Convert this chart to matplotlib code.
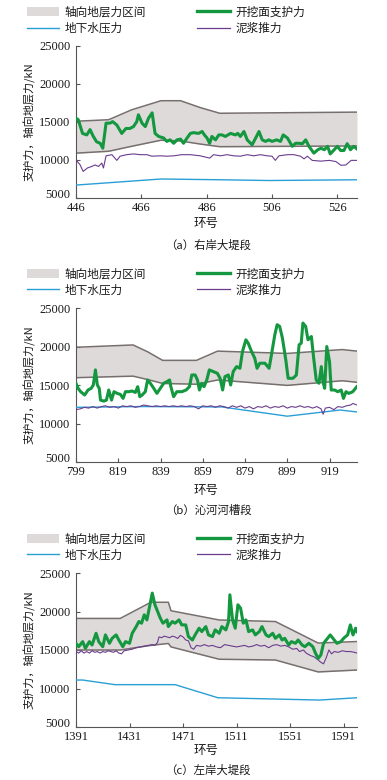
import matplotlib
matplotlib.use('Agg')
import matplotlib.pyplot as plt
import matplotlib.transforms as mtransforms
from matplotlib.patches import Patch
from matplotlib.lines import Line2D

plt.rcParams['font.family'] = ['Noto Sans CJK SC', 'DejaVu Sans']

# ---------------- (a) right bank levee ----------------
a_bound_ring = [446, 456, 463, 472, 478, 484, 490, 532]
a_upper = [15100, 15300, 16600, 17800, 17800, 16900, 16150, 16300]
a_lower = [10900, 11150, 11800, 12600, 12500, 12100, 11750, 11850]
a_water_ring = [446, 459, 472, 490, 505, 532]
a_water = [6700, 7100, 7500, 7400, 7300, 7400]
a_face_ring = [446, 446.7, 448, 449.3, 450.3, 451.3, 452.3, 453.4, 454.2, 455.2,
               456.4, 457.2, 458.5, 460, 461.3, 462.5, 463.6, 464.6, 465.1, 466.2,
               467.2, 468.2, 469.3, 470.2, 471.3, 472.8, 473.8, 474.8, 475.9, 476.9,
               478, 478.9, 480, 481, 482, 483.5, 484.6, 485.3, 486.1, 486.9,
               487.6, 488.7, 489.7, 490.7, 491.7, 493.3, 494.8, 495.5, 496.3, 497.4,
               498.4, 499.9, 501, 502, 503, 504, 505, 506, 507.4, 508.6,
               509.4, 510.7, 512.2, 513.2, 514.2, 515.3, 516.3, 517.3, 518.8, 520,
               521, 522, 523, 523.8, 524.8, 526, 527, 528, 529, 530, 531, 532]
a_face = [15500, 15300, 13500, 13300, 14000, 13100, 12400, 12200, 11550, 14850,
          14850, 15050, 14600, 13500, 14150, 14150, 14400, 15050, 15950, 14850,
          14400, 15500, 16200, 13500, 13100, 12900, 12450, 12650, 12200, 12650,
          12750, 12200, 12900, 13500, 13600, 13500, 13750, 13300, 12900, 12200,
          13100, 12650, 13300, 13300, 13100, 13500, 13300, 13500, 13100, 13750,
          12650, 12000, 12900, 13750, 12650, 12450, 12650, 12450, 12650, 12450,
          13300, 12900, 11800, 12200, 12200, 12150, 12650, 11800, 10900, 11350,
          11550, 11350, 11800, 10800, 11250, 11800, 11250, 11250, 12150, 11350, 11800, 11450]
a_slurry_ring = [446, 447.2, 448.2, 449.5, 450.8, 451.8, 452.9, 453.9, 454.4, 455.2,
                 457, 458.5, 459.5, 461.5, 463.6, 465.6, 467.7, 469.2, 471.8, 473.8,
                 475.9, 478.4, 481, 484, 486.9, 488.1, 490.2, 492.2, 494.3, 496.3,
                 498.4, 500.4, 502.4, 504.5, 506, 507, 508.1, 510.7, 512.7, 514.7,
                 515.8, 516.8, 518.3, 520.9, 523.5, 525.5, 527.1, 528.6, 530.2, 532]
a_slurry = [10000, 9400, 8500, 8950, 9150, 9350, 9150, 9600, 8950, 10550,
            10700, 9950, 10500, 10700, 10800, 10700, 10700, 10500, 10550, 10500,
            10550, 10700, 10700, 10550, 10250, 10700, 10550, 10700, 10550, 10500,
            10700, 10550, 10700, 10550, 10500, 9950, 10550, 10700, 10700, 10500,
            10150, 10500, 9950, 9850, 9950, 9800, 9300, 9350, 9950, 9950]
a_ticks = [446, 466, 486, 506, 526]

# ---------------- (b) Qinhe river channel ----------------
b_bound_ring = [799, 826, 833, 840, 856, 866, 899, 925, 932]
b_upper = [19900, 20200, 19300, 18200, 18200, 19400, 19100, 19600, 19400]
b_lower = [15950, 16150, 15700, 15200, 15100, 15650, 14950, 15550, 15350]
b_water_ring = [799, 830, 868, 899, 924, 932]
b_water = [12100, 12200, 12150, 10950, 11750, 11500]
b_face_ring = [799, 800, 801.2, 803.1, 804.7, 806.2, 807.2, 808.2, 809.1, 810,
               810.6, 812.2, 813.4, 814.5, 815.8, 817, 818.5, 820, 821.3, 822.4,
               824, 825.5, 827.1, 828.2, 829.2, 830.3, 831.8, 832.9, 834.2, 835.8,
               837.3, 838.9, 840.5, 842, 843.3, 843.9, 845.2, 846.7, 849.1, 851.1,
               852.7, 853.8, 855.4, 856.5, 857.4, 858.5, 859.6, 860.9, 862.1, 864,
               865.9, 867.2, 868.4, 869.5, 871.1, 872.2, 873.4, 875, 876.6, 877.8,
               879.4, 880.5, 882.1, 883.6, 884.7, 886, 888.4, 890.4, 891.5, 893.1,
               894.2, 895.4, 896.7, 898.3, 899.4, 901.7, 903.3, 904.6, 905.6, 906.4,
               907.7, 908.8, 910.4, 911.5, 912.7, 914, 915.1, 915.9, 916.7, 917.7,
               919, 919.8, 921.4, 922.9, 924.5, 925.6, 926.8, 928.1, 930, 931.9]
b_face = [15200, 14570, 14130, 13700, 14350, 14570, 15000, 16960, 15000, 14570,
          13040, 12910, 13040, 14350, 13040, 14130, 13910, 13780, 13260, 14130,
          14130, 14220, 14040, 14780, 13480, 13700, 14130, 15650, 15220, 14570,
          13910, 14570, 15220, 15430, 15650, 14780, 13480, 14130, 14130, 14350,
          14780, 16300, 16300, 15650, 14350, 15220, 14780, 15650, 16960, 16740,
          16520, 15870, 14350, 16090, 16300, 15000, 16740, 17390, 17170, 19350,
          20870, 20430, 19350, 18480, 17170, 17830, 17830, 17170, 18910, 21520,
          22830, 22610, 21090, 18260, 15870, 15870, 16300, 20220, 20430, 23040,
          22610, 20870, 21300, 18480, 15650, 15220, 17390, 15430, 14570, 20000,
          18040, 14350, 14350, 14130, 14350, 13260, 14130, 13910, 14130, 14780]
b_slurry_ring = [799, 801, 803, 805, 807, 809, 811, 813, 815, 817,
                 819, 821, 823, 825, 827, 829, 831, 833, 835, 837,
                 839, 841, 843, 845, 847, 849, 851, 853, 855, 857,
                 859, 861, 863, 865, 867, 869, 871, 873, 875, 877,
                 879, 881, 883, 885, 887, 889, 891, 893, 895, 897,
                 899, 901, 903, 905, 907, 909, 911, 913, 915, 916,
                 917, 919, 921, 923, 925, 927, 929, 930, 932]
b_slurry = [11800, 11900, 12100, 12000, 12200, 12000, 12200, 12300, 12100, 12200,
            12000, 12300, 12200, 12300, 12100, 12200, 12400, 12300, 12200, 12300,
            12200, 12300, 12200, 12300, 12200, 12300, 12200, 12300, 12200, 11900,
            12300, 12200, 12300, 12100, 12300, 12200, 12000, 12300, 12100, 12300,
            12000, 12200, 11900, 12200, 12100, 12300, 12000, 12200, 12100, 12300,
            12000, 12200, 12100, 12300, 12100, 12200, 12000, 12200, 11900, 11200,
            12000, 12100, 11800, 12200, 12100, 12300, 12400, 12600, 12400]
b_ticks = [799, 819, 839, 859, 879, 899, 919]

# ---------------- (c) left bank levee ----------------
c_bound_ring = [1391, 1424, 1447, 1460, 1462, 1498, 1540, 1572, 1601]
c_upper = [19100, 19100, 21200, 21200, 20100, 18900, 18700, 15900, 16100]
c_lower = [15000, 15000, 15600, 15850, 15400, 13800, 13700, 12150, 12400]
c_water_ring = [1391, 1396, 1420, 1465, 1497, 1573, 1601]
c_water = [11100, 11100, 10500, 10500, 8800, 8500, 8800]
c_face_ring = [1391, 1393, 1396, 1398, 1401, 1403, 1406, 1408, 1411, 1413,
               1416, 1418, 1421, 1423, 1426, 1428, 1431, 1433, 1436, 1438,
               1440, 1442, 1444, 1446, 1448, 1450, 1452, 1454, 1456, 1459,
               1460, 1463, 1465, 1468, 1470, 1473, 1475, 1478, 1480, 1483,
               1485, 1488, 1490, 1493, 1495, 1498, 1500, 1503, 1505, 1506,
               1508, 1510, 1512, 1514, 1516, 1518, 1520, 1523, 1525, 1528,
               1530, 1533, 1535, 1538, 1540, 1543, 1545, 1547, 1550, 1552,
               1555, 1557, 1560, 1562, 1565, 1568, 1570, 1572, 1574, 1576,
               1579, 1581, 1584, 1586, 1589, 1591, 1594, 1596, 1598, 1600, 1601]
c_face = [15870, 15430, 16090, 15220, 16090, 15650, 17170, 16090, 15430, 16960,
          15870, 16520, 16960, 16300, 15430, 16090, 15870, 17170, 18040, 18700,
          18480, 19570, 18910, 20650, 22390, 20870, 20000, 19130, 18480, 18910,
          18040, 18700, 18480, 18910, 18260, 18260, 16740, 16300, 16960, 17830,
          17390, 18040, 16960, 16740, 17610, 17170, 18040, 17610, 18700, 22170,
          18910, 17830, 20870, 20430, 18480, 18910, 17390, 17610, 16960, 17390,
          18040, 16960, 16740, 17170, 16520, 16960, 16300, 16520, 15650, 16090,
          15870, 16300, 15650, 15430, 15870, 15430, 14570, 13910, 14350, 15870,
          16520, 16960, 16300, 15870, 16090, 16520, 16960, 18260, 16960, 17830, 17390]
c_slurry_ring = [1391, 1393, 1395, 1397, 1399, 1401, 1403, 1405, 1407, 1409,
                 1411, 1413, 1415, 1417, 1419, 1421, 1423, 1425, 1427, 1430,
                 1433, 1436, 1439, 1442, 1445, 1448, 1450, 1452, 1453, 1455,
                 1457, 1459, 1461, 1463, 1465, 1467, 1469, 1471, 1473, 1475,
                 1477, 1479, 1481, 1484, 1487, 1490, 1493, 1496, 1499, 1502,
                 1505, 1508, 1511, 1514, 1517, 1520, 1523, 1526, 1529, 1532,
                 1535, 1538, 1541, 1544, 1547, 1550, 1553, 1556, 1558, 1561,
                 1563, 1566, 1569, 1572, 1574, 1576, 1578, 1580, 1582, 1584,
                 1587, 1590, 1593, 1596, 1599, 1601]
c_slurry = [14800, 14600, 14900, 14600, 14800, 14600, 14900, 14700, 14800, 14600,
            14800, 14700, 14900, 14800, 14700, 14900, 14600, 14500, 14900, 15000,
            15100, 15300, 15400, 15500, 15600, 15700, 15600, 16000, 16700, 16600,
            16800, 16700, 16600, 16800, 16700, 16500, 16900, 16700, 16300, 16200,
            15300, 15100, 15600, 15500, 15700, 15500, 15600, 15400, 15300, 15700,
            15600, 15500, 15400, 15500, 15600, 15400, 15500, 15700, 15500, 15600,
            15300, 15600, 15700, 15500, 15600, 15400, 15100, 15200, 14800, 15000,
            14600, 14300, 14100, 13700, 13400, 13200, 14000, 15000, 14500, 14800,
            14700, 14900, 14800, 14800, 14700, 14600]
c_ticks = [1391, 1431, 1471, 1511, 1551, 1591]

yticks = [5000, 10000, 15000, 20000, 25000]
legend_labels = ['轴向地层力区间', '地下水压力', '开挖面支护力', '泥浆推力']
captions = ['（a）右岸大堤段', '（b）沁河河槽段', '（c）左岸大堤段']

FILL = '#dddad9'
EDGE = '#776f6e'
GREEN = '#13973f'
BLUE = '#2a9fd6'
PURPLE = '#6b3c8e'
AX_COL = '#555555'
TXT = '#1a1a1a'

fig = plt.figure(figsize=(3.87, 7.80), dpi=100)


def draw_panel(rect, bound_ring, upper, lower, water_ring, water,
               face_ring, face, slurry_ring, slurry, ticks, xlim,
               caption, cap_y, xlab_y):
    ax = fig.add_axes(rect)
    ax.fill_between(bound_ring, lower, upper, color=FILL, lw=0, zorder=1)
    ax.plot(bound_ring, upper, color=EDGE, lw=1.1, zorder=2)
    ax.plot(bound_ring, lower, color=EDGE, lw=1.1, zorder=2)
    ax.plot(water_ring, water, color=BLUE, lw=1.0, zorder=3)
    ax.plot(slurry_ring, slurry, color=PURPLE, lw=0.8, zorder=4)
    ax.plot(face_ring, face, color=GREEN, lw=2.2, zorder=5)
    ax.set_xlim(xlim)
    ax.set_ylim(5000, 25000)
    ax.set_xticks(ticks)
    ax.set_yticks(yticks)
    for s in ['top', 'right']:
        ax.spines[s].set_visible(False)
    for s in ['left', 'bottom']:
        ax.spines[s].set_color(AX_COL)
        ax.spines[s].set_linewidth(0.8)
    ax.tick_params(axis='x', direction='in', length=3, width=0.8,
                   color=AX_COL, pad=3)
    ax.tick_params(axis='y', direction='in', length=3, width=0.8,
                   color=AX_COL, pad=4)
    for lab in ax.get_xticklabels() + ax.get_yticklabels():
        lab.set_fontfamily('Liberation Serif')
        lab.set_fontsize(9)
        lab.set_color(TXT)
    # lift the lowest y label a little so it clears the first x label
    low = ax.get_yticklabels()[0]
    low.set_transform(low.get_transform() +
                      mtransforms.ScaledTranslation(0, 3 / 72, fig.dpi_scale_trans))
    ax.set_ylabel('支护力，轴向地层力/kN', fontsize=8, color=TXT)
    ax.yaxis.set_label_coords(-0.145, 0.5)

    handles = [Patch(facecolor=FILL, edgecolor='none'),
               Line2D([], [], color=BLUE, lw=1.0),
               Line2D([], [], color=GREEN, lw=2.4),
               Line2D([], [], color=PURPLE, lw=0.9)]
    ax.legend(handles, legend_labels, ncol=2, loc='lower left',
              bbox_to_anchor=(-0.175, 1.072), frameon=False, fontsize=8.4,
              handlelength=2.8, handleheight=0.9, columnspacing=4.4,
              handletextpad=0.45, labelspacing=0.3, borderaxespad=0,
              borderpad=0, labelcolor=TXT)
    fig.text(206 / 387, 1 - xlab_y / 780, '环号', ha='center', va='center',
             fontsize=9, color=TXT)
    fig.text(208 / 387, 1 - cap_y / 780, caption, ha='center', va='center',
             fontsize=8.2, color=TXT)
    return ax


draw_panel([76 / 387, 1 - 198 / 780, 281 / 387, 152 / 780],
           a_bound_ring, a_upper, a_lower, a_water_ring, a_water,
           a_face_ring, a_face, a_slurry_ring, a_slurry, a_ticks, (446, 532),
           captions[0], 245, 223)
draw_panel([76 / 387, 1 - 462 / 780, 281 / 387, 154 / 780],
           b_bound_ring, b_upper, b_lower, b_water_ring, b_water,
           b_face_ring, b_face, b_slurry_ring, b_slurry, b_ticks, (799, 932),
           captions[1], 510, 490)
draw_panel([76 / 387, 1 - 727 / 780, 281 / 387, 154 / 780],
           c_bound_ring, c_upper, c_lower, c_water_ring, c_water,
           c_face_ring, c_face, c_slurry_ring, c_slurry, c_ticks, (1391, 1601),
           captions[2], 770, 750)

fig.savefig('out.png', dpi=100, facecolor='white')
